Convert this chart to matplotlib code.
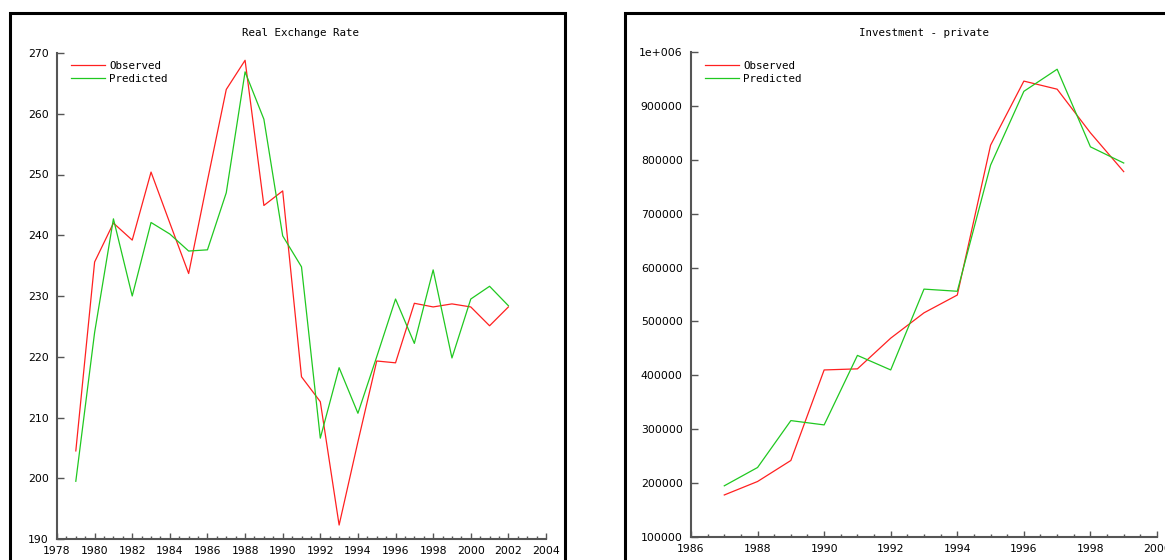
import matplotlib
matplotlib.use('Agg')
import matplotlib.pyplot as plt
from matplotlib.patches import Rectangle
from matplotlib.ticker import MultipleLocator, FixedLocator, FixedFormatter

# Real exchange rate, observed vs predicted
rer_years = list(range(1979, 2003))
rer_observed = [204.5, 235.6, 242.0, 239.2, 250.4, 242.0, 233.7, 249.0, 264.0, 268.8,
                244.9, 247.3, 216.7, 212.6, 192.3, 206.0, 219.3, 219.0, 228.8, 228.2,
                228.7, 228.2, 225.1, 228.2]
rer_predicted = [199.5, 224.0, 242.7, 230.0, 242.1, 240.2, 237.4, 237.6, 247.0, 266.9,
                 259.1, 239.9, 234.8, 206.6, 218.2, 210.7, 220.0, 229.5, 222.2, 234.3,
                 219.8, 229.5, 231.6, 228.4]
rer_yticks = [190, 200, 210, 220, 230, 240, 250, 260, 270]
rer_ylabels = ['190', '200', '210', '220', '230', '240', '250', '260', '270']

# Private investment, observed vs predicted
inv_years = list(range(1987, 2000))
inv_observed = [178000, 203000, 242000, 410000, 412000, 469000, 516000, 549000,
                827000, 946000, 931000, 850000, 778000]
inv_predicted = [195000, 229000, 316000, 308000, 437000, 410000, 560000, 556000,
                 790000, 927000, 968000, 824000, 794000]
inv_yticks = [100000, 200000, 300000, 400000, 500000, 600000, 700000, 800000, 900000, 1000000]
inv_ylabels = ['100000', '200000', '300000', '400000', '500000', '600000', '700000',
               '800000', '900000', '1e+006']

W, H = 1165, 560
fig = plt.figure(figsize=(W / 100, H / 100), dpi=100)

obs_color = '#ff2020'
pred_color = '#20c820'
axis_color = '#555555'
mono = 'DejaVu Sans Mono'


def px_axes(x0, x1, ytop, ybot):
    return fig.add_axes([x0 / W, 1 - ybot / H, (x1 - x0) / W, (ybot - ytop) / H])


def style_axes(ax, xlim, ylim, yticks, ylabels):
    ax.set_xlim(*xlim)
    ax.set_ylim(*ylim)
    for side in ['top', 'right']:
        ax.spines[side].set_visible(False)
    for side in ['left', 'bottom']:
        ax.spines[side].set_color(axis_color)
        ax.spines[side].set_linewidth(1.5)
    ax.xaxis.set_major_locator(MultipleLocator(2))
    ax.xaxis.set_minor_locator(MultipleLocator(0.5))
    ax.yaxis.set_major_locator(FixedLocator(yticks))
    ax.yaxis.set_major_formatter(FixedFormatter(ylabels))
    ax.tick_params(axis='x', which='major', direction='in', length=4.5, width=1,
                   color=axis_color, labelsize=7.8, pad=5)
    ax.tick_params(axis='x', which='minor', direction='in', length=2.5, width=1,
                   color=axis_color)
    ax.tick_params(axis='y', which='major', direction='in', length=5, width=1,
                   color=axis_color, labelsize=7.8, pad=6)
    ax.patch.set_alpha(0)


def add_legend(ax, left_px, top_px):
    ax.legend(loc='upper left', bbox_to_anchor=(left_px / W, 1 - top_px / H),
              bbox_transform=fig.transFigure, frameon=False, borderpad=0,
              borderaxespad=0, handlelength=3.1, handletextpad=0.45,
              labelspacing=0.27, prop={'family': mono, 'size': 7.8})


# panel frames
for x0, x1 in [(10, 565), (625, 1200)]:
    fig.patches.append(Rectangle((x0 / W, -0.1), (x1 - x0) / W, 1.1 - 13 / H,
                                 transform=fig.transFigure, fill=False,
                                 edgecolor='black', linewidth=2.2))

ax1 = px_axes(57, 546, 53, 539)
ax1.plot(rer_years, rer_observed, color=obs_color, lw=0.9, label='Observed')
ax1.plot(rer_years, rer_predicted, color=pred_color, lw=0.9, label='Predicted')
style_axes(ax1, (1978, 2004), (190, 270), rer_yticks, rer_ylabels)
add_legend(ax1, 71, 61)
fig.text(301 / W, 1 - 33 / H, 'Real Exchange Rate', ha='center', va='center',
         family=mono, fontsize=7.8)

ax2 = px_axes(691, 1157, 52, 537)
ax2.plot(inv_years, inv_observed, color=obs_color, lw=0.9, label='Observed')
ax2.plot(inv_years, inv_predicted, color=pred_color, lw=0.9, label='Predicted')
style_axes(ax2, (1986, 2000), (100000, 1000000), inv_yticks, inv_ylabels)
add_legend(ax2, 705, 61)
fig.text(924 / W, 1 - 33 / H, 'Investment - private', ha='center', va='center',
         family=mono, fontsize=7.8)

fig.savefig('out.png', dpi=100)
